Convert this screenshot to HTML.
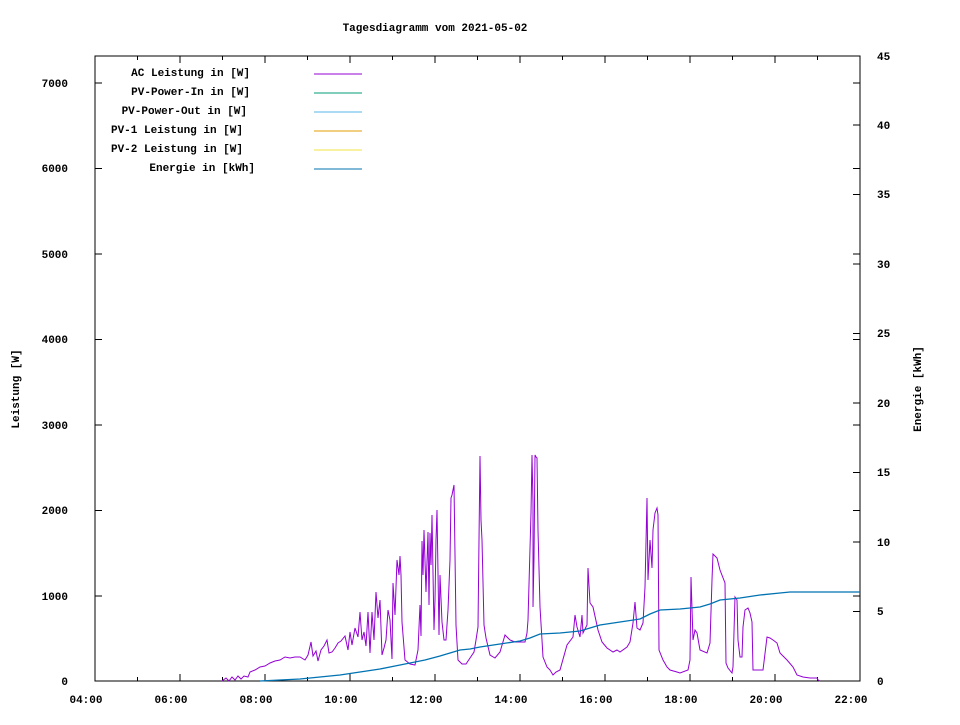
<!DOCTYPE html>
<html><head><meta charset="utf-8"><style>
body{margin:0;background:#fff}
svg text{font-family:"Liberation Mono",monospace;font-size:11px;font-weight:bold;fill:#000}
</style></head><body>
<svg width="960" height="720" xmlns="http://www.w3.org/2000/svg">
<rect width="960" height="720" fill="#fff"/>
<text x="435" y="31" text-anchor="middle">Tagesdiagramm vom 2021-05-02</text>
<g shape-rendering="crispEdges">
<rect x="95" y="56" width="765" height="625" fill="none" stroke="#000" stroke-width="1"/>
<g stroke="#000" stroke-width="1">
<path d="M95 596h7M95 510.5h7M95 425h7M95 339.5h7M95 254h7M95 168.5h7M95 83h7"/>
<path d="M860 596h-7M860 510.5h-7M860 425h-7M860 339.5h-7M860 254h-7M860 168.5h-7M860 83h-7"/>
<path d="M860 611.5h-7M860 542h-7M860 472.5h-7M860 403h-7M860 333.5h-7M860 264h-7M860 194.5h-7M860 125h-7"/>
<path d="M180 681v-7M265 681v-7M350 681v-7M435 681v-7M520 681v-7M605 681v-7M690 681v-7M775 681v-7"/>
<path d="M137.5 681v-4M222.5 681v-4M307.5 681v-4M392.5 681v-4M477.5 681v-4M562.5 681v-4M647.5 681v-4M732.5 681v-4M817.5 681v-4"/>
<path d="M180 56v7M265 56v7M350 56v7M435 56v7M520 56v7M605 56v7M690 56v7M775 56v7"/>
<path d="M137.5 56v4M222.5 56v4M307.5 56v4M392.5 56v4M477.5 56v4M562.5 56v4M647.5 56v4M732.5 56v4M817.5 56v4"/>
</g>
<g stroke-width="1">
<path d="M314 74h48" stroke="#9400d3"/>
<path d="M314 93h48" stroke="#009e73"/>
<path d="M314 112h48" stroke="#56b4e9"/>
<path d="M314 131h48" stroke="#e69f00"/>
<path d="M314 150h48" stroke="#f0e442"/>
<path d="M314 169h48" stroke="#0072b2"/>
</g>
</g>
<g text-anchor="end">
<text x="68" y="685">0</text><text x="68" y="600">1000</text><text x="68" y="514">2000</text>
<text x="68" y="429">3000</text><text x="68" y="343">4000</text><text x="68" y="258">5000</text>
<text x="68" y="172">6000</text><text x="68" y="87">7000</text>
</g>
<g>
<text x="877" y="685">0</text><text x="877" y="615">5</text><text x="877" y="546">10</text>
<text x="877" y="476">15</text><text x="877" y="407">20</text><text x="877" y="337">25</text>
<text x="877" y="268">30</text><text x="877" y="198">35</text><text x="877" y="129">40</text><text x="877" y="60">45</text>
</g>
<g text-anchor="middle">
<text x="86" y="703">04:00</text><text x="171" y="703">06:00</text><text x="256" y="703">08:00</text>
<text x="341" y="703">10:00</text><text x="426" y="703">12:00</text><text x="511" y="703">14:00</text>
<text x="596" y="703">16:00</text><text x="681" y="703">18:00</text><text x="766" y="703">20:00</text><text x="851" y="703">22:00</text>
</g>
<text transform="translate(19,389) rotate(-90)" text-anchor="middle">Leistung [W]</text>
<text transform="translate(921,389) rotate(-90)" text-anchor="middle">Energie [kWh]</text>
<g text-anchor="end">
<text x="250" y="76">AC Leistung in [W]</text>
<text x="250" y="95">PV-Power-In in [W]</text>
<text x="247" y="114">PV-Power-Out in [W]</text>
<text x="243" y="133">PV-1 Leistung in [W]</text>
<text x="243" y="152">PV-2 Leistung in [W]</text>
<text x="255" y="171">Energie in [kWh]</text>
</g>
<polyline fill="none" stroke="#9400d3" stroke-width="1" points="222,681 226,678 229,681 232,677 235,680 238,676 241,679 244,676 248,677 250,672 255,670 260,667 265,666 270,663 275,661 280,660 285,657 290,658 295,657 300,657 305,660 308,655 311,642 313,656 316,651 318,661 321,650 324,646 327,640 329,653 332,652 335,648 338,643 341,641 345,636 348,650 350,632 352,645 355,628 358,637 360,612 362,640 364,632 366,646 368,612 370,653 372,612 374,640 376,592 378,618 380,600 382,655 384,648 386,640 388,610 390,620 392,659 393,583 395,615 397,560 399,575 400,556 401,575 402,622 405,660 410,664 415,665 418,650 420,605 421,636 422,541 423,575 424,530 426,592 428,532 429,605 430,533 431,565 432,515 434,630 435,600 436,540 437,510 439,635 440,575 442,622 444,640 446,640 448,610 450,560 451,498 452,495 454,485 456,625 458,660 462,664 466,664 470,658 474,652 476,640 478,627 479,540 480,456 481,520 482,540 484,625 486,638 490,655 495,658 500,652 505,635 510,640 515,642 520,642 525,642 527,633 528,620 531,513 532,455 533,503 533,607 534,558 535,455 536,457 537,458 538,530 540,607 542,640 543,657 547,667 550,670 553,675 556,672 560,670 567,645 573,637 575,615 577,627 580,637 582,615 583,633 587,625 588,568 590,603 593,607 598,630 602,642 607,648 613,652 617,650 620,652 627,647 630,642 633,623 635,602 637,628 640,630 643,623 645,587 647,498 648,580 650,540 652,568 653,530 655,513 657,508 658,515 659,650 663,660 667,667 670,670 677,672 680,673 688,670 690,660 691,577 693,640 695,630 697,633 700,650 707,653 710,643 712,580 713,554 717,558 720,570 725,583 726,663 728,668 732,673 733,667 735,597 737,600 738,640 740,657 742,657 743,627 745,610 748,608 750,613 752,622 753,670 757,670 763,670 767,637 770,638 773,640 777,643 780,653 787,660 793,667 797,675 803,677 810,678 817,678 818,680 820,681"/>
<polyline fill="none" stroke="#0072b2" stroke-width="1.3" points="260,681 280,680 300,679 320,677 340,675 360,672 380,669 395,666 410,663 425,660 440,656 450,653 460,650 470,649 480,647 500,644 520,641 530,638 540,634 560,633 580,631 590,628 600,625 620,622 640,619 650,614 660,610 680,609 700,607 710,604 720,600 740,598 760,595 780,593 790,592 860,592"/>
</svg>
</body></html>
